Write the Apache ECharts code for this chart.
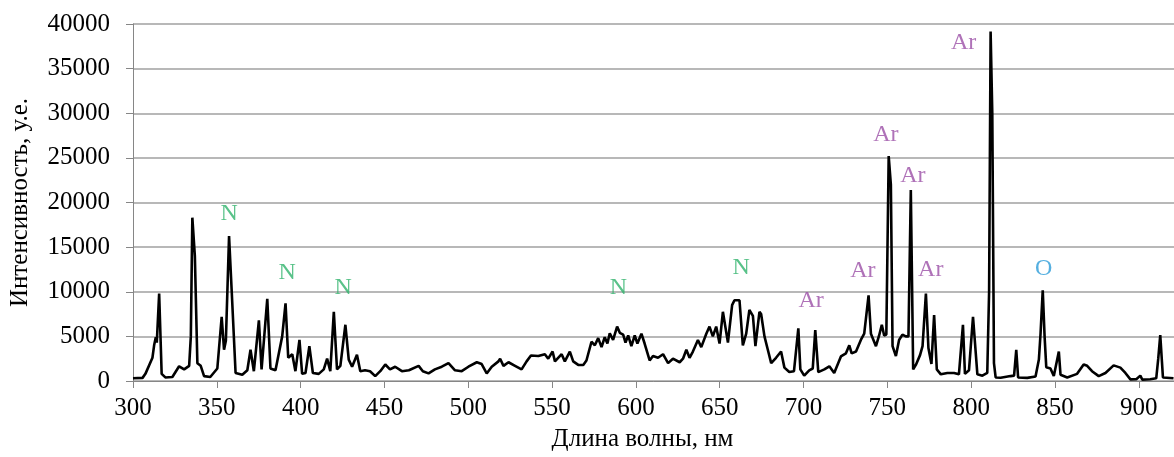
<!DOCTYPE html>
<html>
<head>
<meta charset="utf-8">
<script src="https://cdn.jsdelivr.net/npm/echarts@6/dist/echarts.min.js"></script>
<style>
  html, body { margin: 0; padding: 0; background: #ffffff; }
  #chart { width: 1174px; height: 457px; }
</style>
</head>
<body>
<div id="chart"></div>
<script>
// Emission spectrum: wavelength (nm) and intensity (arb. units)
const wavelength = [
  300.0, 305.7, 307.4, 311.6, 312.6, 313.6, 314.2, 315.6, 317.1, 319.3,
  323.5, 327.5, 330.5, 333.5, 334.5, 335.4, 336.9, 338.4, 340.4, 342.4,
  346.1, 350.3, 352.9, 354.3, 355.4, 357.3, 358.9, 361.2, 365.2, 368.2,
  370.1, 372.1, 375.1, 376.7, 380.1, 382.0, 385.0, 389.0, 391.0, 392.6,
  395.0, 396.9, 399.3, 400.9, 402.9, 405.2, 407.3, 410.8, 413.8, 415.8,
  417.7, 419.8, 421.7, 423.7, 426.7, 428.7, 430.7, 433.6, 435.6, 438.4,
  441.4, 444.5, 447.5, 450.5, 453.3, 456.4, 460.4, 464.6, 470.4, 472.9,
  476.3, 480.1, 484.2, 488.2, 492.1, 496.1, 500.1, 505.1, 508.0, 511.0,
  514.0, 518.0, 519.0, 521.0, 524.0, 527.9, 531.8, 534.8, 537.4, 541.8,
  545.7, 547.7, 550.3, 551.7, 555.7, 557.6, 560.6, 562.6, 565.6, 568.6,
  570.5, 573.5, 575.5, 577.5, 579.5, 581.4, 583.0, 584.4, 586.4, 588.8,
  590.4, 592.4, 593.8, 595.4, 597.3, 599.3, 600.9, 603.3, 605.2, 608.2,
  610.2, 613.2, 616.2, 619.2, 622.1, 626.1, 628.1, 630.1, 632.0, 634.0,
  637.0, 639.0, 642.0, 643.9, 645.9, 647.9, 649.9, 651.9, 652.9, 654.9,
  657.4, 658.8, 661.8, 663.8, 665.8, 667.7, 669.8, 671.3, 673.7, 674.7,
  676.7, 678.7, 680.7, 683.6, 686.6, 688.6, 691.5, 694.3, 696.9, 698.1,
  700.4, 703.4, 705.5, 707.0, 708.8, 712.4, 715.4, 718.3, 722.3, 725.3,
  727.3, 728.7, 731.3, 734.2, 736.2, 738.8, 740.2, 743.2, 745.1, 746.7,
  748.1, 749.4, 750.8, 752.1, 753.1, 755.1, 757.0, 759.0, 761.0, 762.6,
  764.0, 765.4, 767.0, 769.5, 771.0, 773.0, 774.5, 776.3, 777.9, 779.5,
  781.9, 785.8, 789.8, 792.7, 795.1, 796.3, 798.7, 801.1, 802.1, 803.7,
  806.7, 809.6, 810.7, 811.6, 812.6, 813.6, 814.6, 817.6, 823.5, 825.6,
  826.9, 828.0, 833.5, 838.4, 840.4, 841.4, 842.7, 843.8, 844.8, 847.3,
  849.3, 852.3, 853.3, 857.3, 863.2, 867.1, 869.2, 872.1, 876.1, 880.1,
  885.0, 889.0, 892.0, 895.0, 898.5, 900.9, 902.1, 906.8, 910.4, 911.6,
  912.8, 914.4, 920.7
];
const intensity = [
  300, 350, 800, 2600, 4000, 4900, 4300, 9800, 800, 400,
  450, 1650, 1300, 1700, 5000, 18300, 14000, 2000, 1700, 550,
  450, 1400, 7200, 3500, 4500, 16250, 10000, 900, 700, 1200,
  3500, 1100, 6800, 1300, 9200, 1400, 1200, 5000, 8700, 2600,
  3000, 1100, 4600, 800, 900, 3900, 900, 800, 1300, 2500,
  1100, 7750, 1300, 1700, 6300, 2400, 1600, 2950, 1100, 1200,
  1100, 550, 1100, 1850, 1300, 1600, 1100, 1200, 1700, 1100,
  850, 1300, 1600, 2000, 1200, 1100, 1600, 2100, 1900, 850,
  1600, 2200, 2500, 1700, 2100, 1700, 1300, 2200, 2850, 2800,
  3000, 2500, 3300, 2200, 3000, 2200, 3300, 2200, 1800, 1800,
  2300, 4400, 4000, 4800, 3800, 4900, 4200, 5350, 4600, 6100,
  5400, 5200, 4300, 5100, 3900, 5100, 4200, 5300, 4200, 2300,
  2800, 2600, 3000, 2000, 2500, 2100, 2500, 3500, 2600, 3300,
  4600, 3800, 5300, 6100, 5000, 6100, 4200, 7750, 7900, 4300,
  8500, 9050, 9050, 4000, 5300, 7950, 7300, 3900, 7750, 7500,
  5000, 3500, 2000, 2600, 3300, 1500, 1000, 1100, 5900, 1300,
  600, 1200, 1400, 5700, 1000, 1300, 1650, 900, 2750, 3100,
  4000, 3100, 3300, 4600, 5300, 9600, 5300, 3900, 5100, 6300,
  5100, 5200, 25200, 22000, 3900, 2800, 4600, 5200, 5000, 5000,
  21400, 1300, 1800, 2900, 3900, 9800, 3700, 1900, 7400, 1300,
  750, 900, 900, 750, 6300, 800, 1200, 7200, 7200, 750,
  600, 900, 10000, 39150, 30000, 2000, 400, 370, 550, 600,
  3500, 400, 350, 500, 2400, 5350, 10150, 5000, 1550, 1400,
  550, 3300, 700, 400, 800, 1850, 1700, 1100, 550, 900,
  1750, 1500, 900, 180, 200, 600, 150, 200, 300, 2500,
  5150, 400, 300
];

// Element annotations: wavelength, intensity where the tag sits, element
const tagWavelength = [357.4, 392.0, 425.3, 589.6, 662.8, 704.5, 735.4, 749.1, 765.2, 775.9, 795.5, 843.2];
const tagIntensity  = [18700, 12100, 10500, 10500, 12750, 8975, 12400, 27600, 23050, 12500, 37900, 12630];
const tagElement    = ['N', 'N', 'N', 'N', 'N', 'Ar', 'Ar', 'Ar', 'Ar', 'Ar', 'Ar', 'O'];
const elementColor  = { N: '#2fb36c', Ar: '#9b4fa6', O: '#2a9bd8' };

const xTitle = 'Длина волны, нм';
const yTitle = 'Интенсивность, у.е.';

const serif = '"Liberation Serif", "DejaVu Serif", serif';

const lineData = wavelength.map((w, i) => [w, intensity[i]]);
const tagData = tagWavelength.map((w, i) => ({
  value: [w, tagIntensity[i]],
  name: tagElement[i],
  label: { color: elementColor[tagElement[i]] }
}));

const chart = echarts.init(document.getElementById('chart'), null, { renderer: 'canvas' });
chart.setOption({
  animation: false,
  backgroundColor: '#ffffff',
  grid: { left: 130.5, right: 0, top: 24, bottom: 72, containLabel: false },
  xAxis: {
    type: 'value',
    min: 300,
    max: 921,
    interval: 50,
    name: xTitle,
    nameLocation: 'middle',
    nameGap: 46,
    nameTextStyle: { fontFamily: serif, fontSize: 25, color: '#000', padding: [0, 22, 0, 0] },
    axisLine: { show: true, lineStyle: { color: '#868686', width: 1 } },
    axisTick: { show: true, length: 7, inside: false, lineStyle: { color: '#868686' } },
    axisLabel: { fontFamily: serif, fontSize: 25, color: '#000', margin: 15, showMaxLabel: false },
    splitLine: { show: false }
  },
  yAxis: {
    type: 'value',
    min: 0,
    max: 40000,
    interval: 5000,
    name: yTitle,
    nameLocation: 'middle',
    nameGap: 100,
    nameRotate: 90,
    nameTextStyle: { fontFamily: serif, fontSize: 25, color: '#000' },
    axisLine: { show: true, lineStyle: { color: '#868686', width: 1 } },
    axisTick: { show: true, length: 7, lineStyle: { color: '#868686' } },
    axisLabel: { fontFamily: serif, fontSize: 25, color: '#000', margin: 23, formatter: v => String(v) },
    splitLine: { show: true, lineStyle: { color: '#a0a0a0', width: 1.5 } }
  },
  series: [
    {
      type: 'line',
      data: lineData,
      showSymbol: false,
      symbol: 'none',
      smooth: false,
      lineStyle: { color: '#000', width: 2.6 },
      clip: true,
      z: 3
    },
    {
      type: 'scatter',
      data: tagData,
      symbolSize: 0,
      silent: true,
      z: 4,
      label: {
        show: true,
        position: 'inside',
        formatter: p => p.name,
        fontFamily: serif,
        fontSize: 24
      }
    }
  ]
});
</script>
</body>
</html>
